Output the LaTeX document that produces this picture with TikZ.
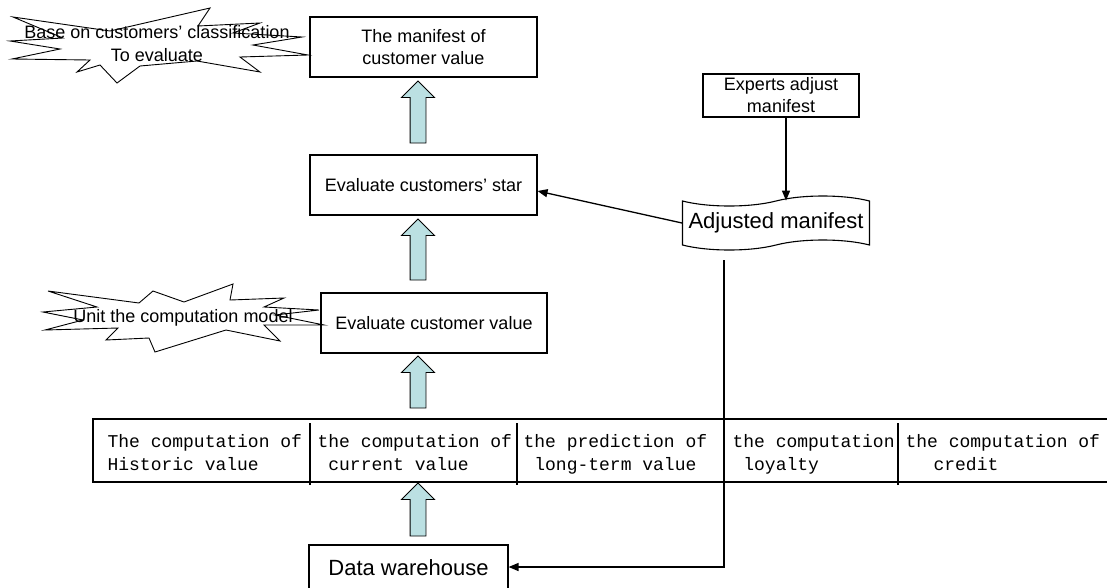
\documentclass[tikz,border=0pt]{standalone}
\usepackage{fontspec}
\setmainfont{Liberation Sans}
\newfontfamily\tabfont{Liberation Mono}
\usetikzlibrary{calc}
\usetikzlibrary{arrows.meta,shapes.symbols,shapes.arrows}
\usetikzlibrary{positioning}
\definecolor{arrowfill}{RGB}{187,224,226}
\newcommand{\twoline}[2]{\strut #1\\\strut #2}

\begin{document}
\begin{tikzpicture}[x=1pt,y=-1pt,line width=1.1pt,
  box/.style={draw,rectangle,inner sep=0pt,align=center,font=\fontsize{18}{22}\selectfont},
  uparrow/.style={draw,single arrow,shape border rotate=90,fill=arrowfill,line width=0.9pt,
    minimum width=32pt,single arrow head extend=8.5pt,inner sep=7.5pt},
  star/.style={draw,line width=0.9pt},
  link/.style={-{Triangle[length=10pt,width=8pt]},line width=1.3pt},
  cell/.style={anchor=west,inner sep=0pt,align=left,font=\tabfont\fontsize{18}{23}\selectfont}]
 \useasboundingbox (0,0) rectangle (1107,587);
 % stars
 \draw[star] (13,17) -- (110,31) -- (210,8) -- (198,26) -- (260,23) -- (233,33) -- (302,37)
   -- (253,45) -- (308,55) -- (240,57) -- (260,72) -- (197,61) -- (140,66) -- (117,83)
   -- (100,65) -- (77,72) -- (90,60) -- (12,59) -- (60,49) -- (10,41) -- (63,38) -- cycle;
 \node[align=center,font=\fontsize{18}{23}\selectfont] (classify) at (157,44)
   {Base on customers' classification\\To evaluate};
 \draw[star] (48,291) -- (139,303) -- (153,291) -- (184,302) -- (233,284) -- (230,300)
   -- (284,298) -- (264,307) -- (319,310) -- (275,315) -- (324,325) -- (264,325)
   -- (280,341) -- (226,330) -- (155,352) -- (149,338) -- (106,340) -- (118,328)
   -- (45,330) -- (83,320) -- (43,312) -- (97,307) -- cycle;
 \node[font=\fontsize{18}{23}\selectfont] (unitmodel) at (183,318) {Unit the computation model};
 % boxes
 \node[box,minimum width=227pt,minimum height=60pt] (manifest) at (423.5,47) {The manifest of\\customer value};
 \node[box,minimum width=227pt,minimum height=60pt] (starbox) at (423.5,185) {Evaluate customers' star};
 \node[box,minimum width=226pt,minimum height=60pt] (evalbox) at (434,323) {Evaluate customer value};
 \node[box,minimum width=156pt,minimum height=43pt] (experts) at (781,95.5) {Experts adjust\\manifest};
 \node[box,minimum width=199pt,minimum height=60pt,font=\fontsize{22}{26}\selectfont,
   text depth=14pt] (warehouse) at (408.5,575) {Data warehouse};
 \node[draw,tape,tape bend top=in and out,tape bend bottom=in and out,tape bend height=10pt,
   minimum width=187pt,minimum height=54pt,inner sep=0pt,font=\fontsize{22}{26}\selectfont] (adjusted) at (776,223) {Adjusted manifest};
 % block arrows
 \node[uparrow,minimum height=62pt] (up1) at (418,116) {};
 \node[uparrow,minimum height=61pt] (up2) at (418,253.5) {};
 \node[uparrow,minimum height=52pt] (up3) at (418,386) {};
 \node[uparrow,minimum height=53pt] (up4) at (418,513.5) {};
 % table
 \draw (1110,419) -- (93,419) -- (93,482) -- (1110,482);
 \foreach \x in {310,517,724,898} \draw (\x,423) -- (\x,485);
 \node[cell] (hist) at (107,454) {\twoline{The computation of}{Historic value}};
 \node[cell] (curr) at (317,454) {\twoline{the computation of}{\hspace*{10.8pt}current value}};
 \node[cell] (longterm) at (523,454) {\twoline{the prediction of}{\hspace*{10.8pt}long-term value}};
 \node[cell] (loyal) at (732,454) {\twoline{the computation}{\hspace*{10.8pt}loyalty}};
 \node[cell] (credit) at (905,454) {\twoline{the computation of}{\hspace*{28pt}credit}};
 % connectors
 \draw[link] ([xshift=5pt]experts.south) -- ([xshift=5pt]experts.south |- adjusted.north);
 \draw[link] (adjusted.west) -- ([yshift=-6pt]starbox.east);
 \coordinate (drop) at (724,260);
 \draw[link] (drop) |- ([yshift=8pt]warehouse.east);
\end{tikzpicture}
\end{document}
